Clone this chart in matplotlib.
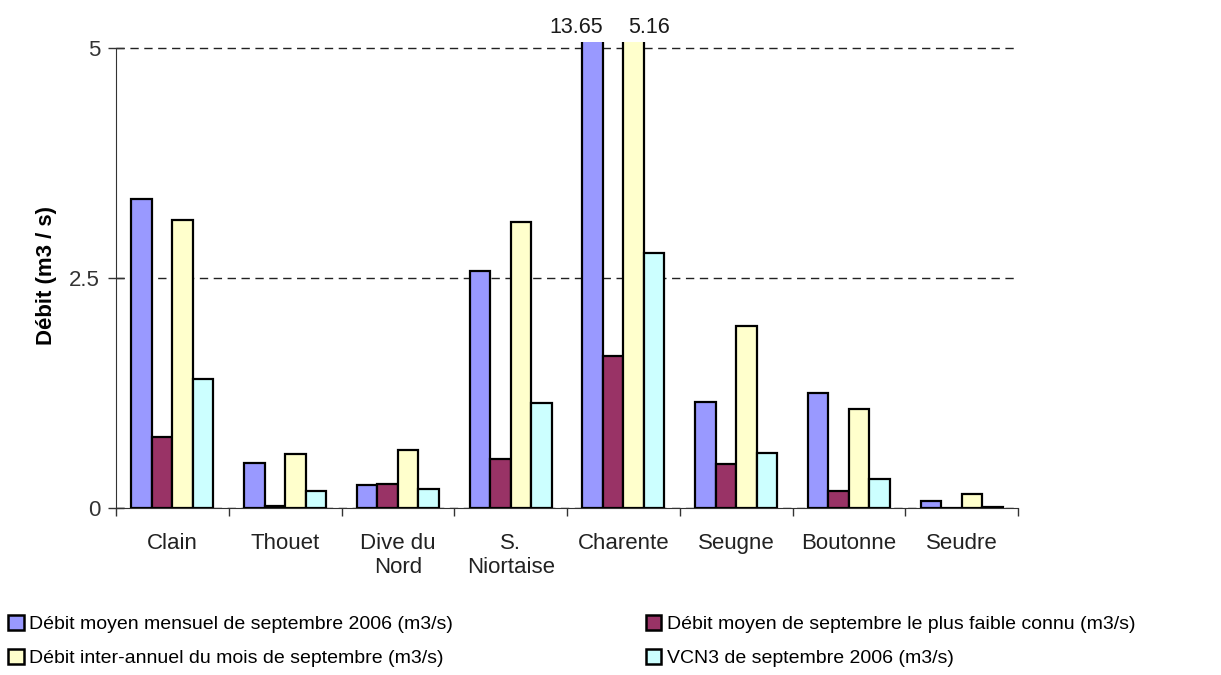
import matplotlib
matplotlib.use("Agg")
import matplotlib.pyplot as plt
import numpy as np
from matplotlib.patches import Patch

# Data
rivers = ['Clain', 'Thouet', 'Dive du\nNord', 'S.\nNiortaise', 'Charente',
          'Seugne', 'Boutonne', 'Seudre']
debit_sept_2006 = [3.36, 0.49, 0.25, 2.58, 13.65, 1.15, 1.25, 0.08]
debit_min_connu = [0.77, 0.02, 0.26, 0.54, 1.65, 0.48, 0.19, 0.0]
debit_interannuel = [3.13, 0.59, 0.63, 3.11, 5.16, 1.98, 1.08, 0.155]
vcn3_sept_2006 = [1.40, 0.185, 0.21, 1.14, 2.78, 0.60, 0.32, 0.01]

series = [
    ('Débit moyen mensuel de septembre 2006 (m3/s)', debit_sept_2006, '#9999FF'),
    ('Débit moyen de septembre le plus faible connu (m3/s)', debit_min_connu, '#993366'),
    ('Débit inter-annuel du mois de septembre (m3/s)', debit_interannuel, '#FFFFCC'),
    ('VCN3 de septembre 2006 (m3/s)', vcn3_sept_2006, '#CCFFFF'),
]
y_ticks = [0, 2.5, 5]
y_tick_labels = ['0', '2.5', '5']

plt.rcParams['font.family'] = ['Liberation Sans', 'DejaVu Sans']

fig = plt.figure(figsize=(12.21, 6.75), dpi=100)
ax = fig.add_axes([0.095, 0.247, 0.7388, 0.691])

x = np.arange(len(rivers))
width = 1 / 5.5
ytop = 5.07
label_shift = {0: -12, 2: 11}

handles = []
for k, (name, vals, color) in enumerate(series):
    pos = x + (k - 1.5) * width
    ax.bar(pos, vals, width, color=color, edgecolor='black', linewidth=1.6, zorder=3)
    handles.append(Patch(facecolor=color, edgecolor='black', linewidth=1.8, label=name))
    # values that run off the top of the axis get a label
    for p, v in zip(pos, vals):
        if v > ytop:
            ax.annotate(f'{v:.2f}', xy=(p, ytop), xytext=(label_shift.get(k, 0), 3),
                        textcoords='offset points', ha='center', va='bottom',
                        fontsize=15.5, color='#1a1a1a', annotation_clip=False)

ax.set_xlim(-0.5, len(rivers) - 0.5)
ax.set_ylim(0, ytop)
ax.set_yticks(y_ticks)
ax.set_yticklabels(y_tick_labels, fontsize=16, color='#333333')
ax.yaxis.grid(True, linestyle=(0, (6, 4)), color='#222222', linewidth=1)
ax.set_axisbelow(True)

ax.set_xticks(x)
ax.set_xticklabels(rivers, fontsize=16, color='#222222')
ax.set_xticks(np.arange(-0.5, len(rivers)), minor=True)
ax.tick_params(axis='x', which='major', length=0, pad=18)
ax.tick_params(axis='x', which='minor', length=6, width=1, direction='out', color='#333333')
ax.tick_params(axis='y', length=11, width=1, direction='inout', pad=6, color='#333333')

for s in ['top', 'right']:
    ax.spines[s].set_visible(False)
ax.spines['left'].set_bounds(0, 5)
ax.spines['left'].set_color('#333333')
ax.spines['bottom'].set_color('#333333')

ax.set_ylabel('Débit (m3 / s)', fontsize=16, fontweight='bold', labelpad=9)

leg_kw = dict(frameon=False, fontsize=14, handlelength=0.8, handleheight=0.8,
              handletextpad=0.3, labelspacing=0.8, borderpad=0, borderaxespad=0)
fig.legend(handles=[handles[0], handles[2]], loc='upper left',
           bbox_to_anchor=(0.0066, 0.089), **leg_kw)
fig.legend(handles=[handles[1], handles[3]], loc='upper left',
           bbox_to_anchor=(0.529, 0.089), **leg_kw)

fig.savefig('out.png', dpi=100)
